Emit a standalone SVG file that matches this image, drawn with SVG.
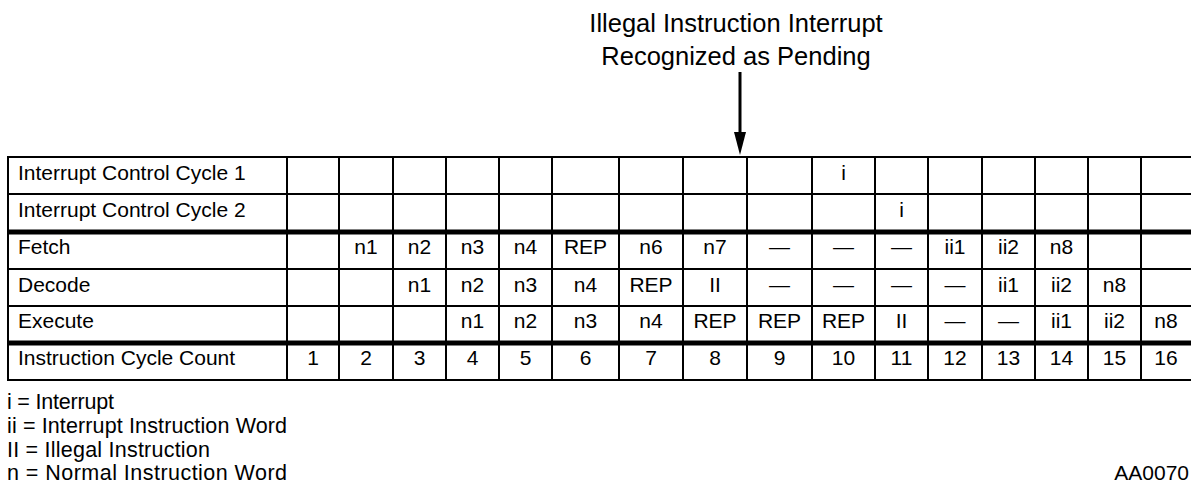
<svg xmlns="http://www.w3.org/2000/svg" width="1191" height="493" viewBox="0 0 1191 493">
<style>
  text { font-family: "Liberation Sans", Arial, sans-serif; font-size: 21px; fill: #000; }
  .c { text-anchor: middle; }
  .title { font-size: 25.5px; text-anchor: middle; }
  .leg { font-size: 21.5px; }
  .thin { stroke: #000; stroke-width: 2; fill: none; }
  .thick { stroke: #000; stroke-width: 5; fill: none; }
  .conn { stroke: #000; stroke-width: 3; fill: none; }
</style>
<defs>
  <marker id="ah" viewBox="0 0 23 12" refX="0" refY="6" markerUnits="userSpaceOnUse" markerWidth="23" markerHeight="12" orient="auto">
    <path d="M0,0 L23,6 L0,12 z" fill="#000"/>
  </marker>
</defs>
<rect width="1191" height="493" fill="#fff"/>

<g id="title">
  <text class="title" x="736" y="32">Illegal Instruction Interrupt</text>
  <text class="title" x="736" y="64.5">Recognized as Pending</text>
</g>

<g id="connectors">
  <line class="conn" x1="740" y1="72" x2="740" y2="132" marker-end="url(#ah)"/>
</g>

<g id="grid">
  <line class="thin" x1="7" y1="157" x2="1191" y2="157"/>
  <line class="thin" x1="8" y1="194" x2="1191" y2="194"/>
  <line class="thick" x1="8" y1="232" x2="1191" y2="232"/>
  <line class="thin" x1="8" y1="269" x2="1191" y2="269"/>
  <line class="thin" x1="8" y1="306" x2="1191" y2="306"/>
  <line class="thick" x1="8" y1="343" x2="1191" y2="343"/>
  <line class="thin" x1="7" y1="380" x2="1191" y2="380"/>
  <path class="thin" d="M8,156 V381 M287,157 V380 M339,157 V380 M393,157 V380 M446,157 V380 M499,157 V380 M552,157 V380 M619,157 V380 M683,157 V380 M747,157 V380 M812,157 V380 M875,157 V380 M928,157 V380 M982,157 V380 M1035,157 V380 M1088,157 V380 M1141,157 V380"/>
</g>

<g id="row-icc1">
  <text x="18" y="179.5">Interrupt Control Cycle 1</text>
  <text class="c" x="843.5" y="179.5">i</text>
</g>
<g id="row-icc2">
  <text x="18" y="217">Interrupt Control Cycle 2</text>
  <text class="c" x="901.5" y="217">i</text>
</g>
<g id="row-fetch">
  <text x="18" y="253.5">Fetch</text>
  <text class="c" x="366" y="253.5">n1</text>
  <text class="c" x="419.5" y="253.5">n2</text>
  <text class="c" x="472.5" y="253.5">n3</text>
  <text class="c" x="525.5" y="253.5">n4</text>
  <text class="c" x="585.5" y="253.5">REP</text>
  <text class="c" x="651" y="253.5">n6</text>
  <text class="c" x="715" y="253.5">n7</text>
  <text class="c" x="779.5" y="253.5">—</text>
  <text class="c" x="843.5" y="253.5">—</text>
  <text class="c" x="901.5" y="253.5">—</text>
  <text class="c" x="955" y="253.5">ii1</text>
  <text class="c" x="1008.5" y="253.5">ii2</text>
  <text class="c" x="1061.5" y="253.5">n8</text>
</g>
<g id="row-decode">
  <text x="18" y="291.5">Decode</text>
  <text class="c" x="419.5" y="291.5">n1</text>
  <text class="c" x="472.5" y="291.5">n2</text>
  <text class="c" x="525.5" y="291.5">n3</text>
  <text class="c" x="585.5" y="291.5">n4</text>
  <text class="c" x="651" y="291.5">REP</text>
  <text class="c" x="715" y="291.5">II</text>
  <text class="c" x="779.5" y="291.5">—</text>
  <text class="c" x="843.5" y="291.5">—</text>
  <text class="c" x="901.5" y="291.5">—</text>
  <text class="c" x="955" y="291.5">—</text>
  <text class="c" x="1008.5" y="291.5">ii1</text>
  <text class="c" x="1061.5" y="291.5">ii2</text>
  <text class="c" x="1114.5" y="291.5">n8</text>
</g>
<g id="row-execute">
  <text x="18" y="327.5">Execute</text>
  <text class="c" x="472.5" y="327.5">n1</text>
  <text class="c" x="525.5" y="327.5">n2</text>
  <text class="c" x="585.5" y="327.5">n3</text>
  <text class="c" x="651" y="327.5">n4</text>
  <text class="c" x="715" y="327.5">REP</text>
  <text class="c" x="779.5" y="327.5">REP</text>
  <text class="c" x="843.5" y="327.5">REP</text>
  <text class="c" x="901.5" y="327.5">II</text>
  <text class="c" x="955" y="327.5">—</text>
  <text class="c" x="1008.5" y="327.5">—</text>
  <text class="c" x="1061.5" y="327.5">ii1</text>
  <text class="c" x="1114.5" y="327.5">ii2</text>
  <text class="c" x="1166" y="327.5">n8</text>
</g>
<g id="row-count">
  <text x="18" y="365">Instruction Cycle Count</text>
  <text class="c" x="313" y="365">1</text>
  <text class="c" x="366" y="365">2</text>
  <text class="c" x="419.5" y="365">3</text>
  <text class="c" x="472.5" y="365">4</text>
  <text class="c" x="525.5" y="365">5</text>
  <text class="c" x="585.5" y="365">6</text>
  <text class="c" x="651" y="365">7</text>
  <text class="c" x="715" y="365">8</text>
  <text class="c" x="779.5" y="365">9</text>
  <text class="c" x="843.5" y="365">10</text>
  <text class="c" x="901.5" y="365">11</text>
  <text class="c" x="955" y="365">12</text>
  <text class="c" x="1008.5" y="365">13</text>
  <text class="c" x="1061.5" y="365">14</text>
  <text class="c" x="1114.5" y="365">15</text>
  <text class="c" x="1166" y="365">16</text>
</g>

<g id="legend">
  <text class="leg" x="7" y="409" textLength="107">i = Interrupt</text>
  <text class="leg" x="7" y="433" textLength="280">ii = Interrupt Instruction Word</text>
  <text class="leg" x="7" y="457" textLength="203">II = Illegal Instruction</text>
  <text class="leg" x="7" y="480" textLength="280">n = Normal Instruction Word</text>
</g>
<g id="figure-id">
  <text x="1189" y="480" text-anchor="end">AA0070</text>
</g>
</svg>
